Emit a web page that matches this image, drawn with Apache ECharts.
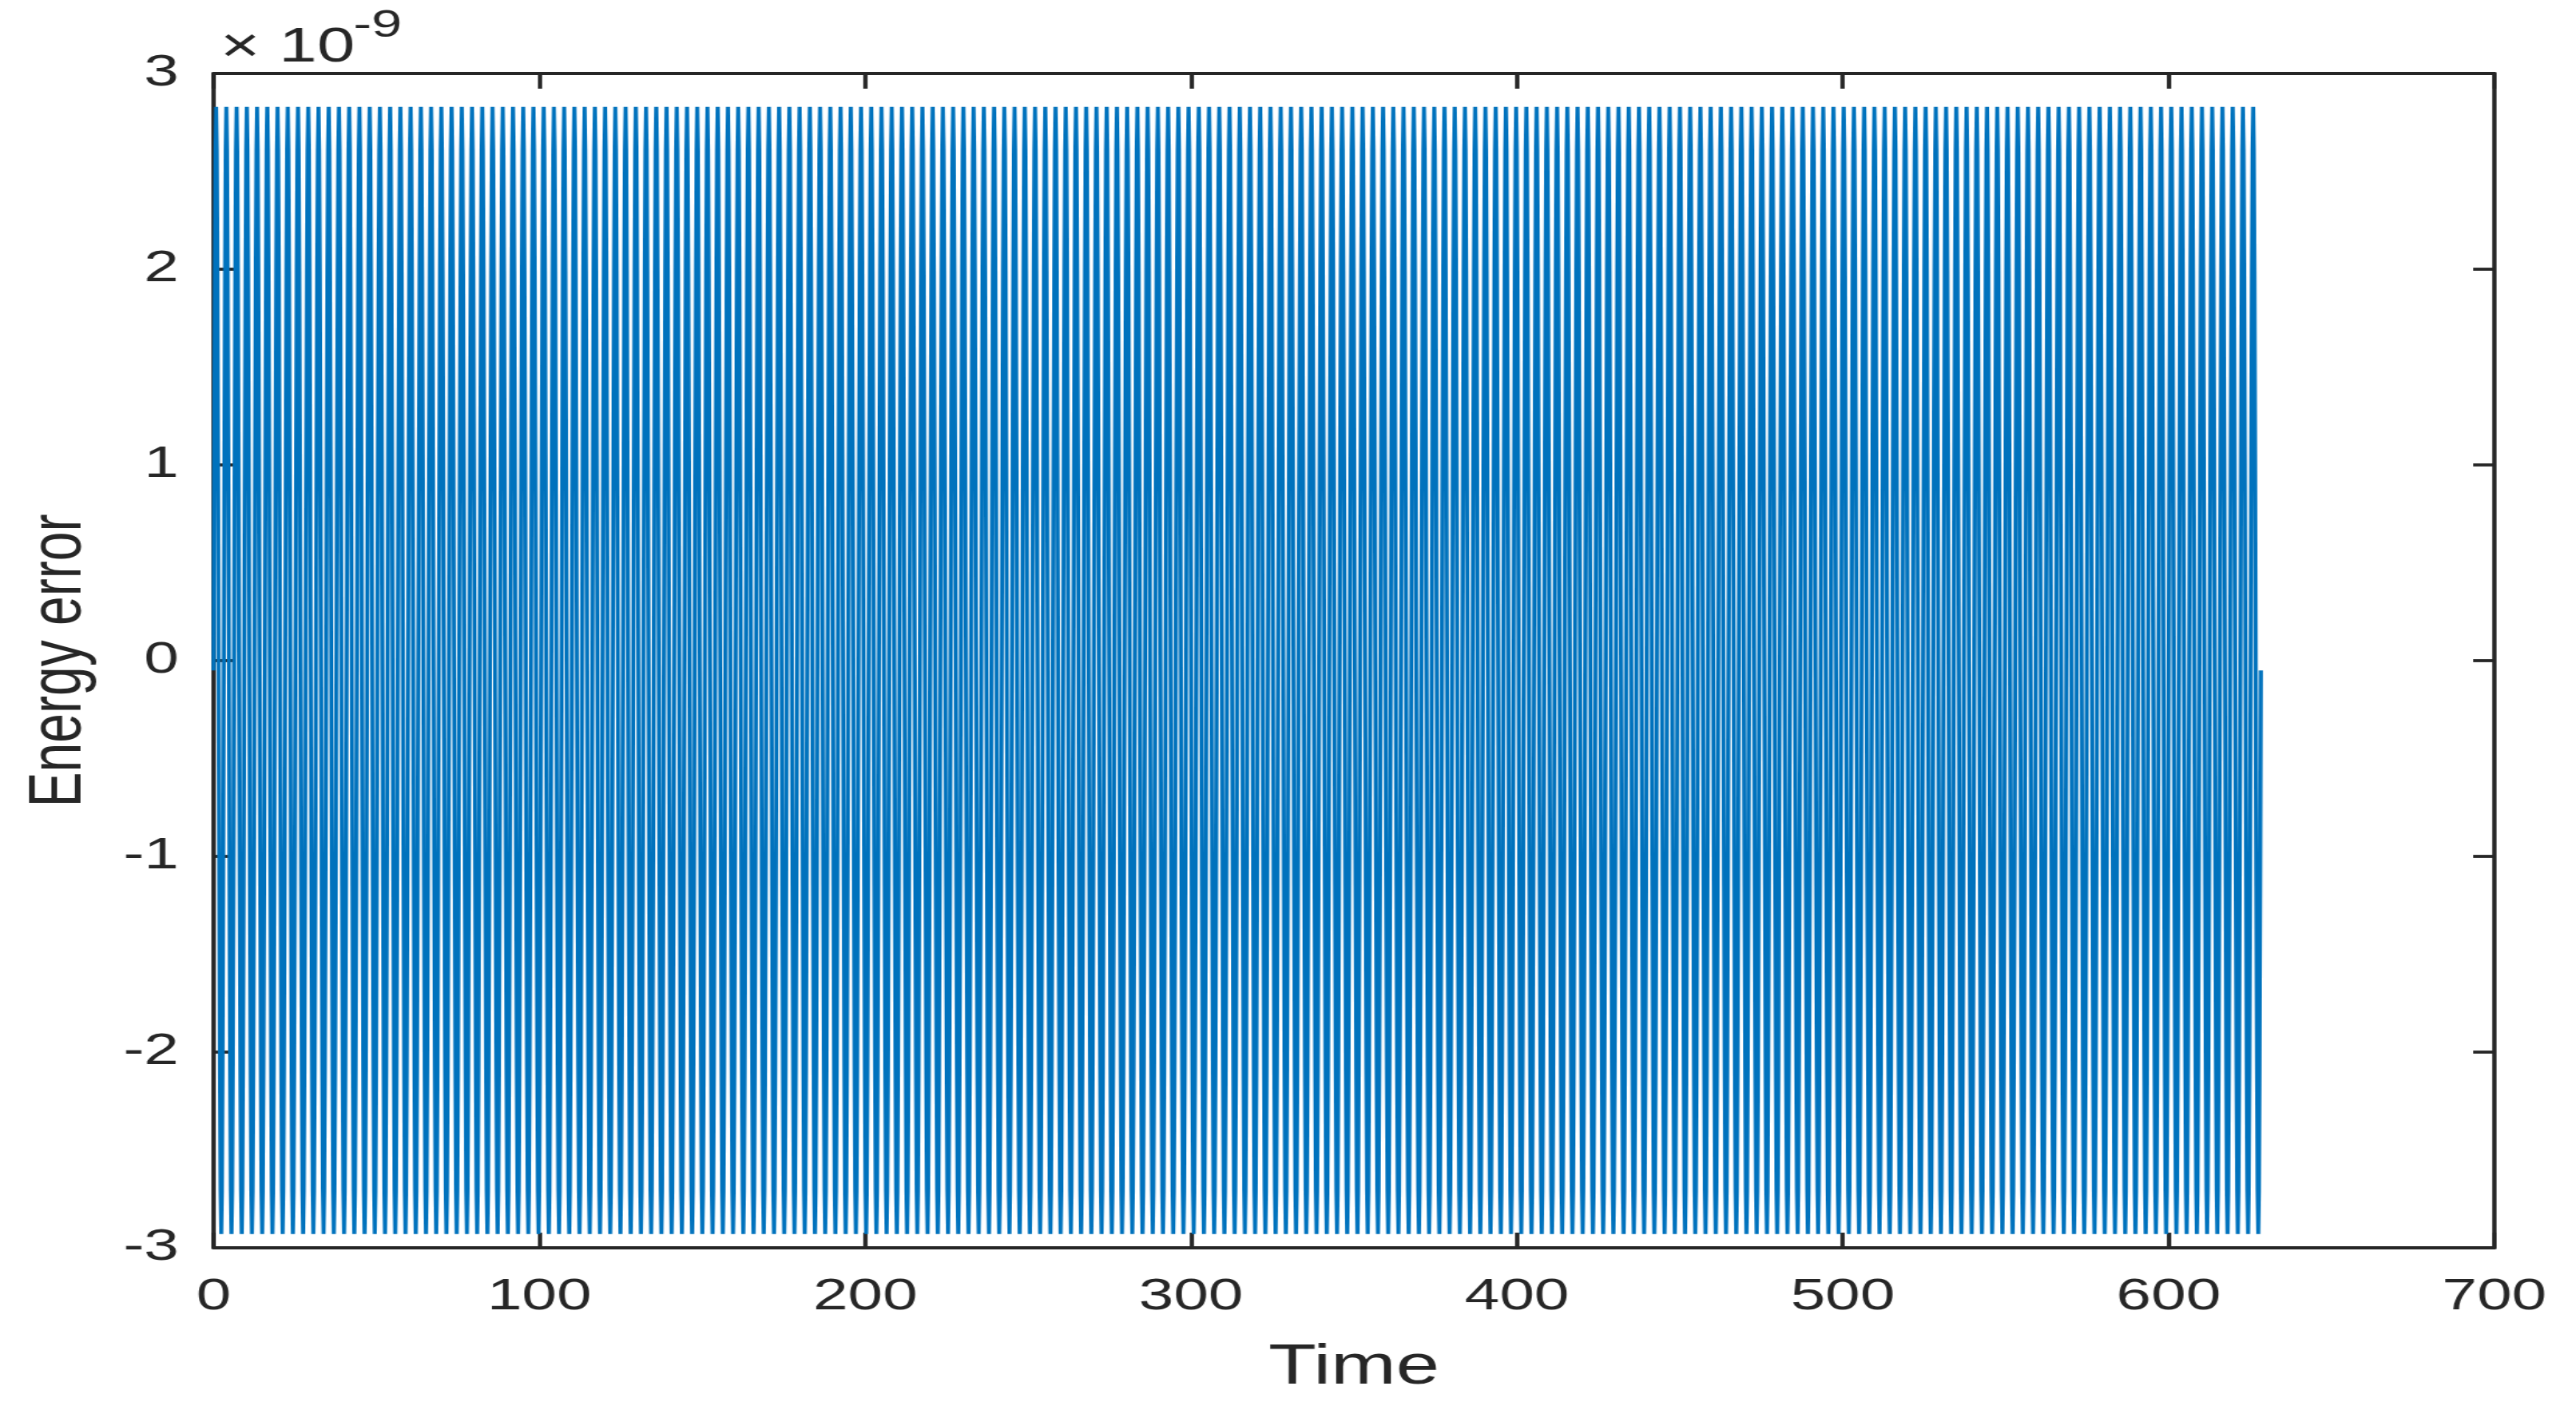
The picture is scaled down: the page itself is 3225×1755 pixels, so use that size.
<!DOCTYPE html>
<html>
<head>
<meta charset="utf-8">
<script src="https://cdn.jsdelivr.net/npm/echarts@6/dist/echarts.min.js"></script>
<style>
  html, body { margin: 0; padding: 0; background: #fff; overflow: hidden; }
  /* the source figure is stretched sideways, so draw narrow and scale */
  #chart { width: 2304px; height: 1755px; transform: scaleX(1.39974); transform-origin: 0 0; }
</style>
</head>
<body>
<div id="chart"></div>
<script>
  // axis ticks
  const xTicks = [0, 100, 200, 300, 400, 500, 600, 700];
  const yTicks = [-3, -2, -1, 0, 1, 2, 3];
  const yExponent = '-9';

  // energy error (x 1e-9): one cycle, 16 samples per cycle
  const cycleValues = [-0.05, 1.05, 1.99, 2.61, 2.83, 2.61, 1.99, 1.05,
                       -0.05, -1.15, -2.09, -2.71, -2.93, -2.71, -2.09, -1.15];
  const cyclePeriod = Math.PI;   // 200 cycles between t = 0 and t = 628.3
  const cycleCount = 200;
  const lastValue = -0.05;

  const energyData = [];
  for (let c = 0; c < cycleCount; c++) {
    cycleValues.forEach((v, i) => {
      energyData.push([(c + i / cycleValues.length) * cyclePeriod, v]);
    });
  }
  energyData.push([cycleCount * cyclePeriod, lastValue]);

  const textColor = '#262626';
  const font = 'Liberation Sans, Arial, Helvetica, sans-serif';

  const chart = echarts.init(document.getElementById('chart'));

  const boxAxis = {
    axisLine: { show: true, onZero: false, lineStyle: { color: textColor, width: 3.8 } },
    axisTick: { show: true, inside: true, length: 19, lineStyle: { color: textColor, width: 3.8 } },
    splitLine: { show: false }
  };

  chart.setOption({
    animation: false,
    backgroundColor: '#fff',
    grid: { left: 191, right: 73, top: 92, bottom: 193, containLabel: false },
    xAxis: [
      Object.assign({
        type: 'value',
        min: xTicks[0],
        max: xTicks[xTicks.length - 1],
        interval: 100,
        position: 'bottom',
        name: 'Time',
        nameLocation: 'middle',
        nameGap: 116,
        nameTextStyle: { color: textColor, fontSize: 70, fontFamily: font },
        axisLabel: {
          color: textColor, fontSize: 56, fontFamily: font, margin: 34,
          formatter: v => String(v)
        }
      }, boxAxis),
      Object.assign({
        type: 'value',
        min: xTicks[0],
        max: xTicks[xTicks.length - 1],
        interval: 100,
        position: 'top',
        axisLabel: { show: false }
      }, boxAxis)
    ],
    yAxis: [
      Object.assign({
        type: 'value',
        min: yTicks[0],
        max: yTicks[yTicks.length - 1],
        interval: 1,
        position: 'left',
        name: 'Energy error',
        nameLocation: 'middle',
        nameRotate: 90,
        nameGap: 104,
        nameTextStyle: { color: textColor, fontSize: 66, fontFamily: font },
        axisLabel: {
          color: textColor, fontSize: 56, fontFamily: font, margin: 31,
          padding: [12, 0, 0, 0],
          formatter: v => String(v)
        }
      }, boxAxis),
      Object.assign({
        type: 'value',
        min: yTicks[0],
        max: yTicks[yTicks.length - 1],
        interval: 1,
        position: 'right',
        axisLabel: { show: false }
      }, boxAxis)
    ],
    graphic: [
      {
        type: 'text', left: 197, top: 30,
        style: { text: '\u00d7 10', fill: textColor, fontSize: 61, fontFamily: font }
      },
      {
        type: 'text', left: 316, top: 8,
        style: { text: yExponent, fill: textColor, fontSize: 49, fontFamily: font }
      }
    ],
    series: [
      {
        type: 'line',
        xAxisIndex: 0,
        yAxisIndex: 0,
        data: energyData,
        showSymbol: false,
        symbol: 'none',
        lineStyle: { color: '#0072BD', width: 3.6 },
        silent: true
      }
    ]
  });
</script>
</body>
</html>
